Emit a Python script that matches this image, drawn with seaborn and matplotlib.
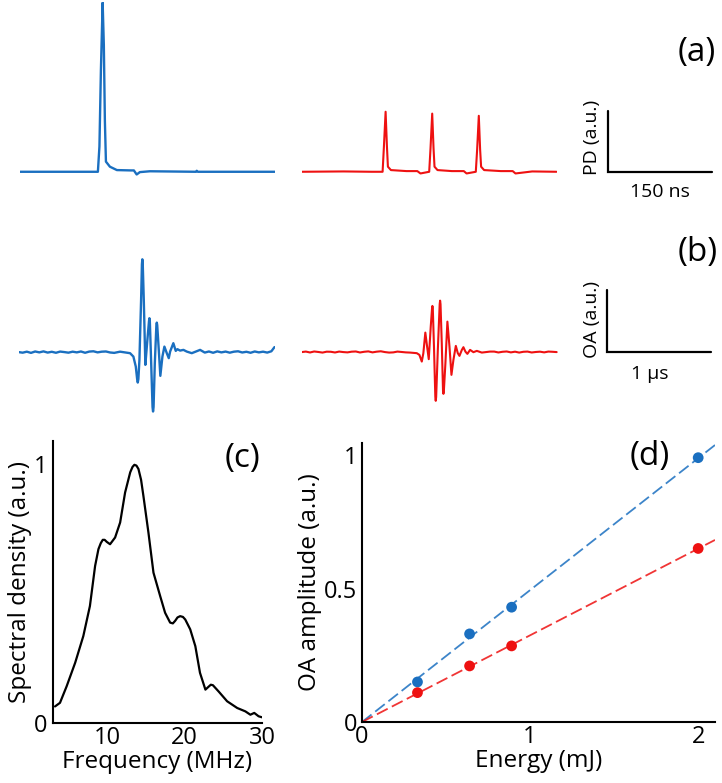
import numpy as np
import matplotlib
matplotlib.use('Agg')
import matplotlib.pyplot as plt
import seaborn as sns

# --- datos ---
# (a) fotodiodo, tiempo en ns
pd_blue_t = [0, 57, 100, 111.5, 113.7, 115.8, 118.3, 120, 121.5, 123, 128.7, 138.7,
             158.7, 163, 167, 171.6, 186, 251.7, 253, 254.5, 300, 364.7]
pd_blue_v = [0, 0, 0, 0, 0.15, 0.6, 1.0, 0.75, 0.3, 0.06, 0.03, 0.01,
             0.008, 0.008, -0.016, -0.002, 0.003, 0, 0.006, 0, 0, 0]
pd_red_t = [0, 60, 100, 115.8, 117.7, 120.1, 122, 123.4, 127.7, 150, 165.5, 170,
            182.5, 184.4, 186.8, 188.7, 190.1, 194.4, 215, 232, 236, 249.2, 251.1,
            253.5, 255.4, 256.8, 261.1, 285, 302, 306, 330, 364.7]
pd_red_v = [0, 0.002, 0, 0, 0.15, 0.355, 0.15, 0.03, 0.01, 0.004, 0.004, -0.01,
            0, 0.14, 0.344, 0.14, 0.03, 0.01, 0.004, 0.004, -0.01, 0, 0.13,
            0.331, 0.13, 0.03, 0.01, 0.004, 0.004, -0.01, 0.002, 0]

# (b) optoacustica, tiempo en us
oa_blue_t = [0, 0.04, 0.08, 0.12, 0.16, 0.20, 0.24, 0.28, 0.32, 0.36, 0.40, 0.44,
             0.48, 0.52, 0.56, 0.60, 0.64, 0.68, 0.72, 0.76, 0.80, 0.84, 0.88, 0.92,
             0.976, 1.072, 1.104, 1.127, 1.140, 1.146, 1.152, 1.162, 1.178, 1.186,
             1.190, 1.194, 1.204, 1.219, 1.236, 1.254, 1.258, 1.262, 1.271, 1.288,
             1.293, 1.298, 1.310, 1.325, 1.329, 1.333, 1.348, 1.363, 1.383, 1.402,
             1.425, 1.444, 1.457, 1.488, 1.511, 1.527, 1.553, 1.585, 1.617, 1.665,
             1.745, 1.79, 1.83, 1.87, 1.91, 1.95, 1.99, 2.03, 2.07, 2.11, 2.15,
             2.19, 2.23, 2.27, 2.31, 2.35, 2.39, 2.43, 2.46]
oa_blue_v = [0.0, -0.006, 0.004, -0.008, 0.006, -0.003, 0.007, -0.005, 0.003, -0.007,
             0.005, 0.0, -0.006, 0.004, -0.003, 0.006, -0.007, 0.005, 0.008, -0.003,
             0.004, 0.006, -0.004, -0.008,
             0.004, -0.011, -0.045, -0.145, -0.27, -0.305, -0.27, -0.078, 0.522, 0.88,
             0.929, 0.88, 0.522, -0.128, 0.092, 0.31, 0.339, 0.31, 0.022, -0.55,
             -0.595, -0.55, -0.108, 0.27, 0.295, 0.27, 0.022, -0.238, -0.045, 0.055,
             -0.011, -0.061, 0.005, 0.089, 0.012, 0.029, 0.015, 0.022, 0.005, -0.011,
             0.022, -0.005, 0.006, -0.007, 0.007, -0.003, 0.005, -0.006, 0.004, 0.008,
             -0.004, 0.003, -0.007, 0.006, -0.003, 0.004, -0.005, 0.008, 0.05]
oa_red_t = [0, 0.04, 0.08, 0.12, 0.16, 0.20, 0.24, 0.28, 0.32, 0.36, 0.40, 0.44,
            0.48, 0.52, 0.56, 0.60, 0.64, 0.68, 0.72, 0.76, 0.80, 0.84, 0.88, 0.92,
            0.96, 1.0, 1.041, 1.106, 1.131, 1.154, 1.169, 1.188, 1.205, 1.221,
            1.240, 1.252, 1.256, 1.260, 1.272, 1.284, 1.288, 1.292, 1.308, 1.326,
            1.330, 1.334, 1.346, 1.358, 1.362, 1.366, 1.381, 1.400, 1.420, 1.439,
            1.458, 1.481, 1.500, 1.516, 1.539, 1.554, 1.573, 1.592, 1.618, 1.650,
            1.683, 1.731, 1.810, 1.85, 1.89, 1.93, 1.97, 2.01, 2.05, 2.09, 2.13,
            2.17, 2.21, 2.25, 2.29, 2.33, 2.37, 2.41, 2.45]
oa_red_v = [0.0, 0.005, -0.004, 0.006, 0.001, -0.005, 0.004, 0.003, -0.004, 0.005,
            0.0, -0.003, 0.004, 0.006, -0.004, 0.003, 0.007, -0.003, 0.004, 0.008,
            0.0, -0.005, -0.003, 0.005, 0.001, -0.003,
            -0.005, -0.011, -0.028, -0.095, -0.011, 0.195, 0.055, -0.071, 0.255,
            0.43, 0.462, 0.43, 0.022, -0.45, -0.488, -0.45, 0.022, 0.48, 0.515,
            0.48, 0.089, -0.39, -0.418, -0.39, -0.111, 0.305, 0.055, -0.228,
            -0.078, 0.062, -0.011, -0.038, 0.022, 0.049, 0.005, -0.018, 0.022,
            -0.001, 0.012, -0.005, 0.005, 0.005, -0.004, 0.003, 0.006, -0.003,
            0.004, -0.005, 0.003, 0.005, -0.004, 0.001, 0.004, -0.003, 0.005,
            0.003, 0.0]

# (c) densidad espectral
freq = [3.3, 3.94, 4.8, 5.9, 6.95, 7.8, 8.47, 8.9, 9.2, 9.46, 9.7, 9.98, 10.4,
        11.05, 11.7, 12.34, 13.0, 13.3, 13.54, 13.8, 14.06, 14.4, 14.7, 15.35,
        16.0, 16.86, 17.5, 18.15, 18.5, 18.8, 19.1, 19.44, 19.8, 20.1, 20.74,
        21.4, 22.0, 22.7, 23.1, 23.4, 23.67, 24.4, 25.5, 26.8, 27.85, 28.5,
        29.0, 29.56, 30.0]
spec = [0.064, 0.078, 0.142, 0.233, 0.336, 0.452, 0.607, 0.672, 0.695, 0.708,
        0.708, 0.70, 0.691, 0.717, 0.775, 0.891, 0.969, 0.99, 0.998, 0.995,
        0.982, 0.94, 0.878, 0.736, 0.581, 0.491, 0.426, 0.388, 0.385, 0.395,
        0.408, 0.413, 0.41, 0.40, 0.362, 0.297, 0.194, 0.129, 0.140, 0.148,
        0.146, 0.122, 0.084, 0.058, 0.045, 0.032, 0.039, 0.026, 0.022]

# (d) amplitud OA vs energia
energy = [0.33, 0.64, 0.89, 2.0]
oa_amp_blue = [0.15, 0.33, 0.43, 0.99]
oa_amp_red = [0.11, 0.21, 0.285, 0.65]

BLUE = '#1a6fc0'
RED = '#ee1111'

sns.set_style('white')
plt.rcParams['font.family'] = ['Open Sans', 'DejaVu Sans']
plt.rcParams['text.color'] = 'black'
plt.rcParams['axes.labelcolor'] = 'black'
plt.rcParams['xtick.color'] = 'black'
plt.rcParams['ytick.color'] = 'black'

W, H = 722, 783
fig = plt.figure(figsize=(W / 100, H / 100), dpi=100)


def ax_px(x0, y0, x1, y1):
    # rectangulo en pixeles (y hacia abajo)
    return fig.add_axes([x0 / W, 1 - y1 / H, (x1 - x0) / W, (y1 - y0) / H])


def ftext(x, y, s, **kw):
    fig.text(x / W, 1 - y / H, s, ha='center', va='center', **kw)


# --- fila (a) ---
ax_a1 = ax_px(20, 2, 275, 176)
ax_a2 = ax_px(301.7, 2, 556.7, 176)
sns.lineplot(x=pd_blue_t, y=pd_blue_v, ax=ax_a1, color=BLUE, lw=1.7, estimator=None)
sns.lineplot(x=pd_red_t, y=pd_red_v, ax=ax_a2, color=RED, lw=1.5, estimator=None)
for ax in (ax_a1, ax_a2):
    ax.set_xlim(0, 365)
    ax.set_ylim(-0.025, 1.004)
    ax.axis('off')
# barra de escala 150 ns
sb_t0 = 438
ax_a2.plot([sb_t0, sb_t0, sb_t0 + 150], [0.36, 0, 0], color='black', lw=1.6,
           clip_on=False, solid_joinstyle='miter')

# --- fila (b) ---
ax_b1 = ax_px(18.5, 250, 274.5, 420)
ax_b2 = ax_px(301.7, 250, 557.7, 420)
sns.lineplot(x=oa_blue_t, y=oa_blue_v, ax=ax_b1, color=BLUE, lw=1.7, estimator=None)
sns.lineplot(x=oa_red_t, y=oa_red_v, ax=ax_b2, color=RED, lw=1.5, estimator=None)
for ax in (ax_b1, ax_b2):
    ax.set_xlim(0, 2.46)
    ax.set_ylim(-0.68, 1.022)
    ax.axis('off')
sb_t1 = 2.936
ax_b2.plot([sb_t1, sb_t1, sb_t1 + 1.0], [0.62, 0, 0], color='black', lw=1.6,
           clip_on=False, solid_joinstyle='miter')

ftext(592, 137, 'PD (a.u.)', rotation=90, fontsize=14)
ftext(660, 192, '150 ns', fontsize=14)
ftext(592, 319, 'OA (a.u.)', rotation=90, fontsize=14)
ftext(650, 374, '1 \u00b5s', fontsize=14)
ftext(697, 53, '(a)', fontsize=24)
ftext(698, 252, '(b)', fontsize=24)

# --- (c) ---
ax_c = ax_px(52.7, 441, 262, 723)
sns.lineplot(x=freq, y=spec, ax=ax_c, color='black', lw=1.6, estimator=None)
ax_c.set_xlim(3, 30)
ax_c.set_ylim(0, 1.09)
ax_c.set_xticks([5, 10, 15, 20, 25, 30])
ax_c.set_xticklabels(['', '10', '', '20', '', '30'])
ax_c.set_yticks([0, 1])
ax_c.set_yticklabels(['0', '1'])
ax_c.tick_params(axis='x', direction='in', length=4, width=1.2, labelsize=17, pad=2)
ax_c.tick_params(axis='y', direction='in', length=0, labelsize=17, pad=4)
ax_c.set_xlabel('Frequency (MHz)', fontsize=17.5, labelpad=0)
ax_c.set_ylabel('Spectral density (a.u.)', fontsize=17.5, labelpad=1)
ftext(243, 459, '(c)', fontsize=24)

# --- (d) ---
ax_d = ax_px(362, 443, 715, 722)
xfit = np.array([0, 2.1])
e = np.array(energy)
for amp, col in ((oa_amp_blue, BLUE), (oa_amp_red, RED)):
    a = np.array(amp)
    k = (e * a).sum() / (e * e).sum()   # ajuste lineal por el origen
    ax_d.plot(xfit, k * xfit, ls=(0, (6.7, 2.6)), lw=1.3, color=col, alpha=0.85)
    sns.scatterplot(x=energy, y=amp, ax=ax_d, color=col, s=60, edgecolor='none',
                    zorder=3)
ax_d.set_xlim(0, 2.1)
ax_d.set_ylim(0, 1.045)
ax_d.set_xticks(np.arange(0, 2.01, 0.2))
ax_d.set_xticklabels(['0', '', '', '', '', '1', '', '', '', '', '2'])
ax_d.set_yticks(np.arange(0, 1.01, 0.1))
ax_d.set_yticklabels(['0', '', '', '', '', '0.5', '', '', '', '', '1'])
ax_d.tick_params(axis='both', direction='in', length=4, width=1.2, labelsize=17)
ax_d.tick_params(axis='x', pad=2)
ax_d.set_xlabel('Energy (mJ)', fontsize=17.5, labelpad=0)
ax_d.set_ylabel('OA amplitude (a.u.)', fontsize=17.5, labelpad=1)
ftext(650, 456, '(d)', fontsize=24)

for ax in (ax_c, ax_d):
    sns.despine(ax=ax)
    for sp in ('left', 'bottom'):
        ax.spines[sp].set_linewidth(1.5)
        ax.spines[sp].set_color('black')

fig.savefig('out.png', dpi=100)
